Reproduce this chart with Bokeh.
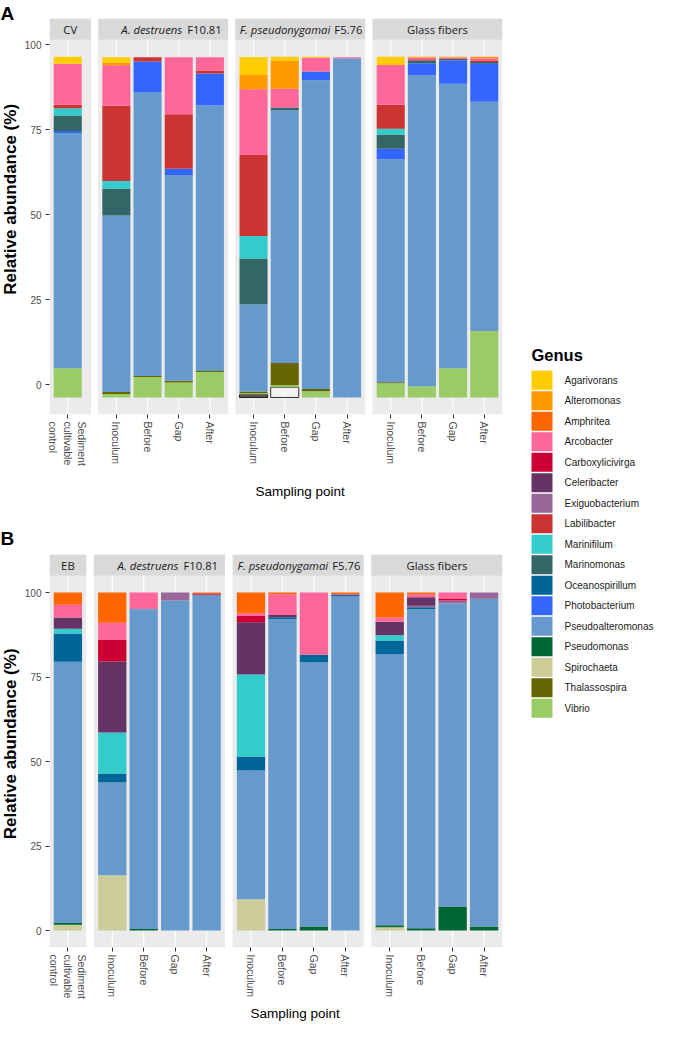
import math
from bokeh.plotting import figure
from bokeh.models import Range1d, FixedTicker, CustomJSTickFormatter, ColumnDataSource, Title
from bokeh.layouts import row, column
from bokeh.embed import file_html
from bokeh.resources import INLINE
from bokeh.core.properties import value

# ---------------- data ----------------
genera = ["Agarivorans", "Alteromonas", "Amphritea", "Arcobacter", "Carboxylicivirga",
          "Celeribacter", "Exiguobacterium", "Labilibacter", "Marinifilum", "Marinomonas",
          "Oceanospirillum", "Photobacterium", "Pseudoalteromonas", "Pseudomonas",
          "Spirochaeta", "Thalassospira", "Vibrio"]
genus_colors = ["#FFCC00", "#FF9900", "#FF6600", "#FF6699", "#CC0033",
                "#663366", "#996699", "#CC3333", "#33CCCC", "#336666",
                "#006699", "#3366FF", "#6699CC", "#006633",
                "#CCCC99", "#666600", "#99CC66"]

sampling_points = ["Inoculum", "Before", "Gap", "After"]
control_label = "Sediment\ncultivable\ncontrol"

A_facet_italic = ["", "A. destruens", "F. pseudonygamai", ""]
A_facet_plain = ["CV", "F10.81", "F5.76", "Glass fibers"]
B_facet_italic = ["", "A. destruens", "F. pseudonygamai", ""]
B_facet_plain = ["EB", "F10.81", "F5.76", "Glass fibers"]

# bars: control, A.d (Inoc, Before, Gap, After), F.p (...), Glass (...)
A_baseline = -3.7
A_Agarivorans = [2.0, 1.6, 0, 0, 0, 5.3, 1.2, 0.3, 0, 2.4, 0, 0, 0]
A_Alteromonas = [0, 0.8, 0, 0, 0, 4.2, 8.2, 0, 0, 0, 0.3, 0.2, 0.4]
A_Arcobacter = [12.1, 11.9, 0, 16.8, 3.9, 19.3, 5.5, 4.0, 0.3, 11.7, 0.4, 0.4, 0.8]
A_Labilibacter = [1.0, 22.1, 1.3, 16.0, 0.9, 23.8, 0, 0, 0, 7.0, 0.4, 0, 0.3]
A_Marinifilum = [2.1, 2.2, 0, 0, 0, 6.6, 0, 0, 0, 1.7, 0, 0, 0]
A_Marinomonas = [4.6, 7.9, 0, 0, 0, 13.5, 0.8, 0, 0, 4.2, 0.8, 0.5, 0.5]
A_Photobacterium = [0.6, 0, 9.1, 1.8, 9.3, 0, 0, 2.6, 0, 3.1, 3.6, 6.8, 11.2]
A_Pseudoalteromonas = [69.1, 51.9, 83.3, 60.5, 78.1, 25.6, 74.3, 90.7, 99.7, 65.5, 91.3, 83.6, 67.4]
A_Thalassospira = [0, 0.6, 0.3, 0.5, 0.3, 0.5, 6.5, 0.66, 0, 0.3, 0, 0, 0]
A_Vibrio = [8.6, 1.0, 6.0, 4.4, 7.5, 0.4, 0.6, 1.84, 0, 4.2, 3.3, 8.6, 19.5]
A_unassigned_dark = [0, 0, 0, 0, 0, 0.86, 0, 0, 0, 0, 0, 0, 0]
A_unassigned_light = [0, 0, 0, 0, 0, 0, 3.0, 0, 0, 0, 0, 0, 0]

B_baseline = 0.0
B_Amphritea = [3.6, 8.9, 0, 0, 0.3, 6.1, 0.5, 0, 0.4, 7.4, 0.5, 0, 0]
B_Arcobacter = [3.8, 5.1, 4.6, 0, 0, 0.8, 6.1, 18.4, 0.3, 1.2, 0.9, 1.9, 0]
B_Carboxylicivirga = [0, 6.4, 0, 0, 0.3, 1.9, 0, 0, 0, 0, 0, 0.4, 0]
B_Celeribacter = [3.3, 21.0, 0, 0, 0, 15.4, 0.7, 0, 0, 4.0, 2.5, 0, 0]
B_Exiguobacterium = [0, 0, 0.4, 2.3, 0, 0, 0, 0, 0, 0, 0.4, 0.9, 1.8]
B_Marinifilum = [1.4, 12.1, 0, 0, 0, 24.3, 0, 0, 0, 1.6, 0, 0, 0]
B_Oceanospirillum = [8.4, 2.7, 0, 0, 0, 4.1, 0.5, 2.2, 0.4, 4.0, 0.6, 0, 0]
B_Pseudoalteromonas = [77.25, 27.4, 94.5, 97.7, 99.4, 38.1, 91.7, 78.2, 98.9, 80.2, 94.4, 89.7, 97.0]
B_Pseudomonas = [0.5, 0, 0.5, 0, 0, 0, 0.5, 1.2, 0, 0.6, 0.7, 7.1, 1.2]
B_Spirochaeta = [1.76, 16.4, 0, 0, 0, 9.3, 0, 0, 0, 1.0, 0, 0, 0]

A_values = {"Agarivorans": A_Agarivorans, "Alteromonas": A_Alteromonas, "Arcobacter": A_Arcobacter,
            "Labilibacter": A_Labilibacter, "Marinifilum": A_Marinifilum, "Marinomonas": A_Marinomonas,
            "Photobacterium": A_Photobacterium, "Pseudoalteromonas": A_Pseudoalteromonas,
            "Thalassospira": A_Thalassospira, "Vibrio": A_Vibrio}
B_values = {"Amphritea": B_Amphritea, "Arcobacter": B_Arcobacter, "Carboxylicivirga": B_Carboxylicivirga,
            "Celeribacter": B_Celeribacter, "Exiguobacterium": B_Exiguobacterium,
            "Marinifilum": B_Marinifilum, "Oceanospirillum": B_Oceanospirillum,
            "Pseudoalteromonas": B_Pseudoalteromonas, "Pseudomonas": B_Pseudomonas,
            "Spirochaeta": B_Spirochaeta}

# ---------------- style ----------------
GUTTER_W = 21
FIG_W = 501
LEFT_B = 26
PX_X = 31.6
PX_Y = 3.4
EXPAND = 0.585
STRIP_PX = 21.3
SANS = "Liberation Sans"
STRIP_FONT = "Open Sans"
STRIP_SPLIT = [None, (19, 24), (30, 34), None]


def make_panel(italic, plain, values, unassigned, baseline, fig_h, top_b,
               first_pad, gap, xlab_offset, xlab_standoff):
    samples = [[control_label]] + [sampling_points] * 3
    f_left, f_right, xs, labs = [], [], [], []
    pos = 0.0
    for f, sm in enumerate(samples):
        f_left.append(pos)
        for k, s in enumerate(sm):
            xs.append(pos + EXPAND + k)
            labs.append(s)
        pos += len(sm) - 1 + 2 * EXPAND + (first_pad if f == 0 else 0.0)
        f_right.append(pos)
        pos += gap
    x_end = f_right[-1]
    f_center = [(a + b) / 2 for a, b in zip(f_left, f_right)]
    n = len(xs)

    series = [(v, fc, lc) for v, fc, lc in unassigned]
    for g, c in reversed(list(zip(genera, genus_colors))):
        series.append((values.get(g, [0] * n), c, None))
    totals = [baseline + sum(s[0][i] for s in series) for i in range(n)]
    ymin, ymax = baseline, max(totals)
    spread = ymax - ymin
    lo = ymin - 0.05 * spread
    hi_panel = ymax + 0.05 * spread
    hi = hi_panel + STRIP_PX / PX_Y

    frame_w = round(x_end * PX_X)
    frame_h = round((hi - lo) * PX_Y)
    right_b = FIG_W - LEFT_B - frame_w
    bottom_b = fig_h - top_b - frame_h

    p = figure(width=FIG_W, height=fig_h, x_range=Range1d(0, x_end), y_range=Range1d(lo, hi),
               min_border_left=LEFT_B, min_border_right=right_b, min_border_top=top_b,
               min_border_bottom=bottom_b, output_backend="svg", toolbar_location=None,
               background_fill_color="white", border_fill_color="white")
    p.outline_line_color = None
    p.grid.visible = False

    # facet panels and strips
    p.quad(left=f_left, right=f_right, bottom=[lo] * 4, top=[hi_panel] * 4,
           fill_color="#EBEBEB", line_color=None)
    p.quad(left=f_left, right=f_right, bottom=[hi_panel] * 4, top=[hi] * 4,
           fill_color="#D9D9D9", line_color=None)
    p.segment(x0=xs, y0=[lo] * n, x1=xs, y1=[hi_panel] * n, line_color="white", line_width=1.1)

    # stacked bars
    cum = [baseline] * n
    for vals, fc, lc in series:
        src = dict(x=[], bottom=[], top=[])
        for i in range(n):
            if vals[i] > 0:
                src["x"].append(xs[i])
                src["bottom"].append(cum[i])
                src["top"].append(cum[i] + vals[i])
            cum[i] += vals[i]
        if src["x"]:
            p.vbar(x="x", bottom="bottom", top="top", width=0.9, source=ColumnDataSource(src),
                   fill_color=fc, line_color=lc, line_width=1 if lc else 0)

    # strip texts
    ys = (hi_panel + hi) / 2
    for f in range(4):
        common = dict(text_font=value(STRIP_FONT), text_font_size="11.3px",
                      text_color="#1A1A1A", text_baseline="middle")
        if italic[f]:
            si, sp = STRIP_SPLIT[f]
            p.text(x=[f_center[f]], y=[ys], text=[italic[f]], x_offset=si, text_align="right",
                   text_font_style="italic", **common)
            p.text(x=[f_center[f]], y=[ys], text=[plain[f]], x_offset=sp, text_align="left", **common)
        else:
            p.text(x=[f_center[f]], y=[ys], text=[plain[f]], text_align="center", **common)

    # axes
    ya = p.yaxis[0]
    ya.ticker = FixedTicker(ticks=[0, 25, 50, 75, 100])
    ya.major_label_text_font = SANS
    ya.major_label_text_font_size = "10px"
    ya.major_label_text_color = "#4D4D4D"
    ya.major_tick_out = 4
    ya.major_tick_in = 0
    ya.major_tick_line_color = "#333333"
    ya.minor_tick_line_color = None
    ya.axis_line_color = None
    ya.major_label_standoff = 4

    xa = p.xaxis[0]
    xa.ticker = FixedTicker(ticks=xs)
    xa.formatter = CustomJSTickFormatter(args=dict(pos=xs, labs=labs), code="""
        for (let i = 0; i < pos.length; i++) { if (Math.abs(tick - pos[i]) < 1e-6) return labs[i]; }
        return "";
    """)
    xa.major_label_orientation = -math.pi / 2
    xa.major_label_text_font = SANS
    xa.major_label_text_font_size = "10.5px"
    xa.major_label_text_color = "#4D4D4D"
    xa.major_tick_out = 4
    xa.major_tick_in = 0
    xa.major_tick_line_color = "#333333"
    xa.minor_tick_line_color = None
    xa.axis_line_color = None
    xa.major_label_standoff = 3

    p.add_layout(Title(text="Sampling point", align="left", offset=xlab_offset,
                       standoff=xlab_standoff, text_font=SANS, text_font_style="normal",
                       text_font_size="13.5px", text_color="black"), "below")
    return p


pA = make_panel(A_facet_italic, A_facet_plain, A_values,
                [(A_unassigned_dark, "#555555", "#222222"), (A_unassigned_light, "#F2F2F2", "#333333")],
                A_baseline, fig_h=517, top_b=18, first_pad=0.16, gap=0.23,
                xlab_offset=206, xlab_standoff=26)
pB = make_panel(B_facet_italic, B_facet_plain, B_values, [],
                B_baseline, fig_h=505, top_b=37, first_pad=0.0, gap=0.24,
                xlab_offset=201, xlab_standoff=4)

# ---------------- left gutter: panel tags and y-axis titles ----------------
gut = figure(width=GUTTER_W, height=1022, x_range=Range1d(8, 8 + GUTTER_W), y_range=Range1d(1030, 8),
             x_axis_location=None, y_axis_location=None, min_border=0,
             output_backend="svg", toolbar_location=None,
             background_fill_color="white", border_fill_color="white")
gut.outline_line_color = None
gut.grid.visible = False
gut.text(x=[8, 8], y=[21, 546], text=["A", "B"], text_font=value(SANS), text_font_style="bold",
         text_font_size="19px", text_color="black", text_align="left", text_baseline="alphabetic")
gut.text(x=[17.5, 17.5], y=[204.5, 749], text=["Relative  abundance (%)"] * 2, angle=math.pi / 2,
         text_font=value(SANS), text_font_style="bold", text_font_size="17px", text_color="black",
         text_align="center", text_baseline="middle")

# ---------------- legend ----------------
leg = figure(width=137, height=1022, x_range=Range1d(530, 667), y_range=Range1d(1030, 8),
             x_axis_location=None, y_axis_location=None, min_border=0,
             output_backend="svg", toolbar_location=None,
             background_fill_color="white", border_fill_color="white")
leg.outline_line_color = None
leg.grid.visible = False
key_top = [378.3 + 20.5 * i for i in range(len(genera))]
leg.quad(left=[539] * len(genera), right=[560] * len(genera), top=key_top,
         bottom=[t + 19 for t in key_top], fill_color=genus_colors, line_color=None)
leg.text(x=[572] * len(genera), y=[t + 9.5 for t in key_top], text=genera,
         text_font=value(SANS), text_font_size="10px", text_color="#1A1A1A",
         text_baseline="middle", text_align="left")
leg.text(x=[539], y=[362], text=["Genus"], text_font=value(SANS), text_font_style="bold",
         text_font_size="16.5px", text_color="black", text_baseline="alphabetic")

layout = row(gut, column(pA, pB), leg)
open("out.html", "w").write(file_html(layout, INLINE))
